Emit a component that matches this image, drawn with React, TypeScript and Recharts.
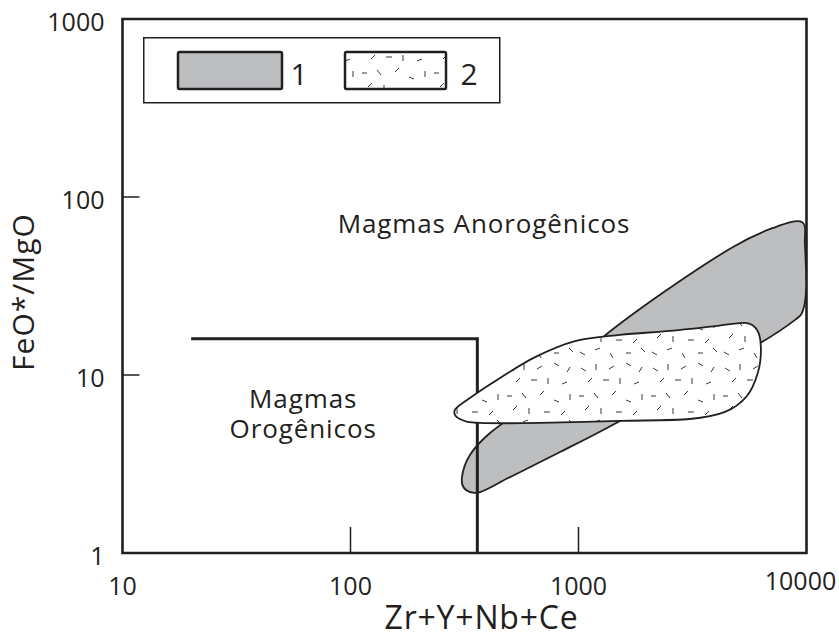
import React from 'react';
import { ScatterChart, Scatter, XAxis, YAxis, ReferenceArea, Legend, Label } from 'recharts';

// Axis extents and tick values (log-log discrimination diagram)
const xDomain = [10, 10000];
const yDomain = [1, 1000];
const xTicks = [10, 100, 1000, 10000];
const yTicks = [1, 10, 100, 1000];

// Field 1 outline (Zr+Y+Nb+Ce, FeO*/MgO)
const field1 = [
  { x: 9550, y: 72.4 },
  { x: 9840, y: 53.7 },
  { x: 9950, y: 30.0 },
  { x: 9660, y: 23.2 },
  { x: 8910, y: 20.4 },
  { x: 6250, y: 15.1 },
  { x: 3410, y: 10.0 },
  { x: 1520, y: 5.52 },
  { x: 830, y: 3.69 },
  { x: 501, y: 2.67 },
  { x: 370, y: 2.2 },
  { x: 321, y: 2.26 },
  { x: 308, y: 2.64 },
  { x: 334, y: 3.55 },
  { x: 409, y: 4.72 },
  { x: 678, y: 7.72 },
  { x: 1280, y: 16.3 },
  { x: 2440, y: 30.0 },
  { x: 4760, y: 52.4 },
  { x: 7130, y: 67.0 },
];

// Field 2 outline
const field2 = [
  { x: 287, y: 6.36 },
  { x: 334, y: 7.43 },
  { x: 453, y: 9.62 },
  { x: 645, y: 12.6 },
  { x: 966, y: 15.5 },
  { x: 1520, y: 16.8 },
  { x: 2520, y: 17.7 },
  { x: 3970, y: 18.8 },
  { x: 5370, y: 19.6 },
  { x: 6070, y: 17.9 },
  { x: 6310, y: 14.2 },
  { x: 6130, y: 10.4 },
  { x: 5480, y: 7.62 },
  { x: 4390, y: 6.2 },
  { x: 3080, y: 5.66 },
  { x: 1520, y: 5.52 },
  { x: 678, y: 5.38 },
  { x: 370, y: 5.38 },
  { x: 302, y: 5.66 },
];

// Orogenic / anorogenic boundary
const boundary = [
  { x: 20, y: 16 },
  { x: 360, y: 16 },
  { x: 360, y: 1 },
];

const regionLabels = [
  { x: 385, y: 70.5, text: 'Magmas Anorogênicos' },
  { x: 62, y: 6.04, text: 'Magmas\nOrogênicos' },
];

const legendItems = [
  { name: '1', kind: 'solid' },
  { name: '2', kind: 'stipple' },
];

const INK = '#231f20';
const GREY = '#bcbec0';
const FONT = "'Open Sans', 'Noto Sans', sans-serif";

// Short, irregularly oriented dashes used as the stipple texture
const dashes: [number, number, number, number][] = [
  [5, 8, 10, 11], [20, 4, 20, 10], [33, 9, 38, 6], [50, 3, 55, 6], [63, 12, 66, 7],
  [12, 22, 16, 18], [27, 20, 33, 20], [44, 18, 44, 24], [58, 24, 63, 22],
  [3, 36, 8, 36], [18, 33, 22, 38], [36, 35, 40, 31], [50, 40, 55, 42], [66, 34, 66, 40],
  [9, 50, 13, 46], [25, 48, 25, 54], [40, 52, 46, 52], [57, 55, 61, 51],
  [4, 64, 9, 67], [19, 62, 24, 60], [34, 65, 37, 70], [50, 65, 55, 65], [65, 60, 69, 64],
];

const StipplePattern = ({ id }: { id: string }) => (
  <pattern id={id} patternUnits="userSpaceOnUse" width={72} height={72}>
    <rect width={72} height={72} fill="#fff" />
    {dashes.map((d, i) => (
      <line key={i} x1={d[0]} y1={d[1]} x2={d[2]} y2={d[3]} stroke={INK} strokeWidth={0.9} />
    ))}
  </pattern>
);

// Closed Catmull-Rom spline through the scaled outline points
function closedSplinePath(pts: { x: number; y: number }[]) {
  const n = pts.length;
  if (n < 3) return '';
  let d = `M${pts[0].x},${pts[0].y}`;
  for (let i = 0; i < n; i++) {
    const p0 = pts[(i - 1 + n) % n];
    const p1 = pts[i];
    const p2 = pts[(i + 1) % n];
    const p3 = pts[(i + 2) % n];
    const c1x = p1.x + (p2.x - p0.x) / 6;
    const c1y = p1.y + (p2.y - p0.y) / 6;
    const c2x = p2.x - (p3.x - p1.x) / 6;
    const c2y = p2.y - (p3.y - p1.y) / 6;
    d += ` C${c1x},${c1y} ${c2x},${c2y} ${p2.x},${p2.y}`;
  }
  return d + ' Z';
}

const fieldOutline = (fill: string) => (props: any) => (
  <path d={closedSplinePath(props.points || [])} fill={fill} stroke={INK} strokeWidth={1.8} strokeLinejoin="round" />
);

const boundaryLine = (props: any) => {
  const pts = props.points || [];
  const d = pts.map((p: any, i: number) => `${i ? 'L' : 'M'}${p.x},${p.y}`).join(' ');
  return <path d={d} fill="none" stroke={INK} strokeWidth={3} strokeLinejoin="miter" />;
};

const noMarker = () => <g />;

const regionText = (props: any) => {
  const { cx, cy, payload } = props;
  const lines: string[] = String(payload.text).split('\n');
  const lh = 30;
  const top = cy - ((lines.length - 1) * lh) / 2;
  return (
    <text textAnchor="middle" fontFamily={FONT} fontSize={26} letterSpacing={0.9} fill={INK}>
      {lines.map((t, i) => (
        <tspan key={i} x={cx} y={top + i * lh} dy="0.35em">{t}</tspan>
      ))}
    </text>
  );
};

const XTick = (props: any) => {
  const { x, y, payload } = props;
  const v = payload.value;
  const inner = v !== xDomain[0] && v !== xDomain[1];
  const last = v === xDomain[1];
  return (
    <g>
      {inner && <line x1={x} x2={x} y1={y} y2={y - 26} stroke={INK} strokeWidth={1.5} />}
      <text x={last ? x - 6 : x} y={y + (last ? 37 : 42)} textAnchor="middle" fontFamily={FONT} fontSize={25} fill={INK}>
        {v}
      </text>
    </g>
  );
};

const YTick = (props: any) => {
  const { x, y, payload } = props;
  const v = payload.value;
  const inner = v !== yDomain[0] && v !== yDomain[1];
  return (
    <g>
      {inner && <line x1={x} x2={x + 17} y1={y} y2={y} stroke={INK} strokeWidth={1.5} />}
      <text x={x - 18} y={y + 12} textAnchor="end" fontFamily={FONT} fontSize={25} fill={INK}>
        {v}
      </text>
    </g>
  );
};

const XTitle = (props: any) => {
  const vb = props.viewBox || {};
  return (
    <text x={vb.x + vb.width / 2 + 17} y={vb.y + 76} textAnchor="middle" fontFamily={FONT} fontSize={32} letterSpacing={0.8} fill={INK}>
      Zr+Y+Nb+Ce
    </text>
  );
};

const YTitle = (props: any) => {
  const vb = props.viewBox || {};
  const cx = 34;
  const cy = vb.y + vb.height / 2 + 6;
  return (
    <text x={cx} y={cy} transform={`rotate(-90 ${cx} ${cy})`} textAnchor="middle" fontFamily={FONT} fontSize={30} letterSpacing={1} fill={INK}>
      FeO*/MgO
    </text>
  );
};

const LegendBox = () => {
  const swatchX = [35, 202];
  const textX = [156, 326];
  return (
    <svg width={358} height={67} style={{ display: 'block', overflow: 'visible' }}>
      <defs>
        <StipplePattern id="stipple-legend" />
      </defs>
      <rect x={0.75} y={0.75} width={356} height={65} fill="#fff" stroke={INK} strokeWidth={1.5} />
      {legendItems.map((item, i) => (
        <g key={item.name}>
          <rect
            x={swatchX[i]}
            y={15}
            width={i === 0 ? 104 : 101}
            height={37}
            rx={1.5}
            fill={item.kind === 'solid' ? GREY : 'url(#stipple-legend)'}
            stroke={INK}
            strokeWidth={2.5}
          />
          <text x={textX[i]} y={48} textAnchor="middle" fontFamily={FONT} fontSize={30} fill={INK}>
            {item.name}
          </text>
        </g>
      ))}
    </svg>
  );
};

export default function App() {
  return (
    <div style={{ position: 'absolute', left: 0, top: 0, width: 839, height: 640, background: '#fff' }}>
      <ScatterChart width={839} height={640} margin={{ top: 19, right: 32.5, left: 0, bottom: 0 }}>
        <defs>
          <StipplePattern id="stipple-field" />
        </defs>
        <XAxis
          dataKey="x"
          type="number"
          scale="log"
          domain={xDomain}
          ticks={xTicks}
          interval={0}
          allowDataOverflow
          axisLine={false}
          tickLine={false}
          tickSize={0}
          tickMargin={0}
          height={87}
          tick={<XTick />}
        >
          <Label content={<XTitle />} />
        </XAxis>
        <YAxis
          dataKey="y"
          type="number"
          scale="log"
          domain={yDomain}
          ticks={yTicks}
          interval={0}
          allowDataOverflow
          axisLine={false}
          tickLine={false}
          tickSize={0}
          tickMargin={0}
          width={122.5}
          tick={<YTick />}
        >
          <Label content={<YTitle />} />
        </YAxis>
        <Legend
          layout="horizontal"
          verticalAlign="middle"
          align="center"
          content={<LegendBox />}
          wrapperStyle={{ left: 143, top: 37, width: 358, height: 67 }}
        />
        <Scatter data={field1} shape={noMarker} line={fieldOutline(GREY)} lineType="joint" isAnimationActive={false} />
        <Scatter data={boundary} shape={noMarker} line={boundaryLine} lineType="joint" isAnimationActive={false} />
        <Scatter data={field2} shape={noMarker} line={fieldOutline('url(#stipple-field)')} lineType="joint" isAnimationActive={false} />
        <Scatter data={regionLabels} shape={regionText} isAnimationActive={false} />
        <ReferenceArea x1={xDomain[0]} x2={xDomain[1]} y1={yDomain[0]} y2={yDomain[1]} fill="none" stroke={INK} strokeWidth={2.6} />
      </ScatterChart>
    </div>
  );
}
